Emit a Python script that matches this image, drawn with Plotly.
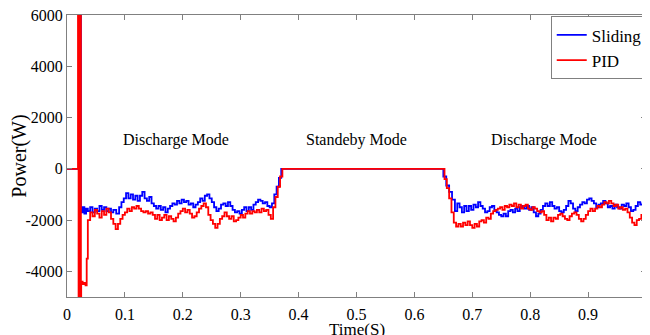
import plotly.graph_objects as go

# ---------------- data ----------------
sliding_t = [0, 0.020, 0.0225, 0.024, 0.027, 0.030, 0.033, 0.036, 0.040, 0.044, 0.048, 0.052, 0.056, 0.060,
             0.064, 0.068, 0.072, 0.076, 0.080, 0.085, 0.090, 0.094, 0.098, 0.102, 0.106, 0.110, 0.114,
             0.118, 0.122, 0.126, 0.130, 0.134, 0.138, 0.142, 0.146, 0.150, 0.154, 0.158, 0.162, 0.166,
             0.170, 0.174, 0.178, 0.182, 0.186, 0.190, 0.194, 0.198, 0.202, 0.206, 0.210, 0.214, 0.218,
             0.222, 0.226, 0.230, 0.234, 0.238, 0.242, 0.246, 0.250, 0.254, 0.258, 0.262, 0.266, 0.270,
             0.274, 0.278, 0.282, 0.286, 0.290, 0.294, 0.298, 0.302, 0.306, 0.310, 0.314, 0.318, 0.322,
             0.326, 0.330, 0.334, 0.338, 0.342, 0.346, 0.350, 0.354, 0.358, 0.362, 0.366, 0.370,
             0.645, 0.650, 0.655, 0.660, 0.665, 0.670, 0.674, 0.678, 0.682, 0.686, 0.690, 0.694, 0.698,
             0.702, 0.706, 0.710, 0.714, 0.718, 0.722, 0.726, 0.730, 0.734, 0.738, 0.742, 0.746, 0.750,
             0.754, 0.758, 0.762, 0.766, 0.770, 0.774, 0.778, 0.782, 0.786, 0.790, 0.794, 0.798, 0.802,
             0.806, 0.810, 0.814, 0.818, 0.822, 0.826, 0.830, 0.834, 0.838, 0.842, 0.846, 0.850, 0.854,
             0.858, 0.862, 0.866, 0.870, 0.874, 0.878, 0.882, 0.886, 0.890, 0.894, 0.898, 0.902, 0.906,
             0.910, 0.914, 0.918, 0.922, 0.926, 0.930, 0.934, 0.938, 0.942, 0.946, 0.950, 0.954, 0.958,
             0.962, 0.966, 0.970, 0.974, 0.978, 0.982, 0.986, 0.990, 0.994, 0.998, 1.0]
sliding_p = [0, 0, 9000, -1700, -1500, -1750, -1550, -1650, -1500, -1700, -1550, -1650, -1450, -1600,
             -1500, -1650, -1550, -1700, -1600, -1750, -1500, -1300, -1150, -950, -1150, -1000, -1200,
             -1050, -1250, -1050, -900, -1150, -1250, -1100, -1350, -1450, -1550, -1450, -1600, -1500,
             -1700, -1550, -1450, -1350, -1400, -1250, -1350, -1200, -1300, -1250, -1400, -1350, -1500,
             -1400, -1300, -1150, -1250, -1050, -1000, -1150, -1300, -1500, -1650, -1550, -1400, -1350,
             -1450, -1300, -1450, -1600, -1700, -1650, -1750, -1600, -1500, -1650, -1500, -1600, -1400,
             -1300, -1200, -1250, -1350, -1300, -1450, -1500, -1350, -1000, -700, -350, 0,
             0, -300, -650, -900, -1200, -1650, -1350, -1500, -1700, -1450, -1650, -1450, -1600,
             -1400, -1500, -1300, -1450, -1550, -1700, -1650, -1500, -1450, -1600, -1700, -1800, -1850,
             -1750, -1850, -1650, -1600, -1700, -1550, -1650, -1500, -1450, -1550, -1450, -1600, -1500,
             -1700, -1850, -1750, -1600, -1450, -1350, -1450, -1300, -1450, -1550, -1500, -1650, -1700,
             -1600, -1450, -1250, -1350, -1550, -1650, -1500, -1400, -1300, -1350, -1200, -1150, -1250,
             -1350, -1500, -1400, -1350, -1250, -1350, -1500, -1450, -1550, -1400, -1500, -1550, -1400,
             -1450, -1350, -1500, -1650, -1600, -1450, -1300, -1400, -1350, -1450, -1400]

pid_t = [0, 0.018, 0.019, 0.020, 0.021, 0.022, 0.023, 0.024, 0.0245, 0.027, 0.030, 0.032, 0.034, 0.036,
         0.040, 0.044, 0.048, 0.052, 0.056, 0.060, 0.064, 0.068, 0.072, 0.076, 0.080, 0.084, 0.088,
         0.092, 0.096, 0.100, 0.104, 0.108, 0.112, 0.116, 0.120, 0.124, 0.128, 0.132, 0.136, 0.140,
         0.144, 0.148, 0.152, 0.156, 0.160, 0.164, 0.168, 0.172, 0.176, 0.180, 0.184, 0.188, 0.192,
         0.196, 0.200, 0.204, 0.208, 0.212, 0.216, 0.220, 0.224, 0.228, 0.232, 0.236, 0.240, 0.244,
         0.248, 0.252, 0.256, 0.260, 0.264, 0.268, 0.272, 0.276, 0.280, 0.284, 0.288, 0.292, 0.296,
         0.300, 0.304, 0.308, 0.312, 0.316, 0.320, 0.324, 0.328, 0.332, 0.336, 0.340, 0.344, 0.348,
         0.352, 0.356, 0.360, 0.364, 0.368, 0.372,
         0.648, 0.652, 0.656, 0.660, 0.664, 0.668, 0.672, 0.676, 0.680, 0.684, 0.688, 0.692, 0.696,
         0.700, 0.704, 0.708, 0.712, 0.716, 0.720, 0.724, 0.728, 0.732, 0.736, 0.740, 0.744, 0.748,
         0.752, 0.756, 0.760, 0.764, 0.768, 0.772, 0.776, 0.780, 0.784, 0.788, 0.792, 0.796, 0.800,
         0.804, 0.808, 0.812, 0.816, 0.820, 0.824, 0.828, 0.832, 0.836, 0.840, 0.844, 0.848, 0.852,
         0.856, 0.860, 0.864, 0.868, 0.872, 0.876, 0.880, 0.884, 0.888, 0.892, 0.896, 0.900, 0.904,
         0.908, 0.912, 0.916, 0.920, 0.924, 0.928, 0.932, 0.936, 0.940, 0.944, 0.948, 0.952, 0.956,
         0.960, 0.964, 0.968, 0.972, 0.976, 0.980, 0.984, 0.988, 0.992, 0.996, 1.0]
pid_p = [0, 0, 9000, -7000, 9000, -7000, 9000, -7000, -4400, -4500, -4450, -4550, -3500, -2000,
         -1700, -1850, -1600, -1750, -1900, -1650, -1800, -1550, -1700, -1950, -2150, -2350, -2150,
         -1950, -1800, -1700, -1550, -1650, -1500, -1550, -1450, -1550, -1650, -1700, -1650, -1750,
         -1700, -1800, -1950, -1800, -2000, -1900, -1800, -2000, -1850, -1950, -2050, -1900, -1750,
         -1650, -1550, -1700, -1600, -1750, -1900, -1850, -1700, -1550, -1450, -1350, -1500, -1800,
         -2000, -2150, -2300, -2150, -1950, -1850, -1700, -1850, -1950, -1850, -2050, -2000, -1900,
         -1800, -1900, -1750, -1650, -1750, -1650, -1700, -1600, -1700, -1550, -1650, -1600, -1800,
         -1950, -1500, -1100, -700, -300, 0,
         0, -400, -750, -1150, -1700, -2100, -2250, -2150, -2250, -2100, -2200, -2050, -2200,
         -2300, -2150, -2250, -2050, -2000, -2100, -1900, -1950, -1750, -1650, -1600, -1550, -1500,
         -1600, -1450, -1500, -1400, -1450, -1350, -1500, -1400, -1550, -1450, -1400, -1550, -1600,
         -1500, -1550, -1650, -1700, -1650, -1800, -2000, -1900, -2050, -1900, -1950, -1800, -1750,
         -1850, -1950, -2000, -1850, -1750, -1700, -1800, -1950, -2050, -1950, -1800, -1650, -1550,
         -1650, -1550, -1450, -1500, -1400, -1300, -1350, -1250, -1350, -1450, -1400, -1550, -1500,
         -1600, -1550, -1700, -1900, -2100, -2200, -2000, -1950, -1800, -1550, -1400]

x_ticks = [0, 0.1, 0.2, 0.3, 0.4, 0.5, 0.6, 0.7, 0.8, 0.9, 1]
x_tick_labels = ["0", "0.1", "0.2", "0.3", "0.4", "0.5", "0.6", "0.7", "0.8", "0.9", "1"]
y_ticks = [-4000, -2000, 0, 2000, 4000, 6000]
y_tick_labels = ["-4000", "-2000", "0", "2000", "4000", "6000"]
x_title = "Time(S)"
y_title = "Power(W)"

mode_labels = ["Discharge Mode", "Standeby Mode", "Discharge Mode"]
mode_x = [0.189, 0.5, 0.823]
mode_y = [1130, 1130, 1130]

# ---------------- figure ----------------
FONT = "Liberation Serif, DejaVu Serif, serif"

fig = go.Figure()
fig.add_trace(go.Scatter(x=sliding_t, y=sliding_p, mode="lines", name="Sliding",
                         line=dict(color="#0000ff", width=1.8, shape="hv")))
fig.add_trace(go.Scatter(x=pid_t, y=pid_p, mode="lines", name="PID",
                         line=dict(color="#ff0000", width=1.8, shape="hv")))

for lbl, xx, yy in zip(mode_labels, mode_x, mode_y):
    fig.add_annotation(x=xx, y=yy, text=lbl, showarrow=False,
                       font=dict(family=FONT, size=16, color="black"))

# x-axis title placed as text just under the tick labels (partly below the page edge, as in the reference)
fig.add_annotation(x=0.5, xref="paper", y=0, yref="paper", yanchor="top", yshift=-21,
                   text=x_title, showarrow=False, font=dict(family=FONT, size=17, color="black"))

axis_common = dict(showline=True, linecolor="#808080", linewidth=1, mirror="ticks",
                   ticks="inside", ticklen=5, tickcolor="#808080", showgrid=False,
                   zeroline=False, automargin=False, ticklabeloverflow="allow",
                   tickfont=dict(family=FONT, size=16, color="black"))

fig.update_xaxes(range=[0, 1], tickvals=x_ticks, ticktext=x_tick_labels, ticklabelstandoff=3,
                 **axis_common)
fig.update_yaxes(range=[-5000, 6000], tickvals=y_ticks, ticktext=y_tick_labels,
                 title=dict(text=y_title, font=dict(family=FONT, size=20, color="black"), standoff=4),
                 **axis_common)

# page body has an 8px default margin; figure sized so the plot lands where the reference has it
fig.update_layout(
    width=642, height=327,
    margin=dict(l=59, r=2, t=7, b=38),
    plot_bgcolor="white", paper_bgcolor="white",
    font=dict(family=FONT, size=16, color="black"),
    showlegend=True,
    legend=dict(x=1.003, y=0.995, xanchor="right", yanchor="top",
                bgcolor="white", bordercolor="#808080", borderwidth=1,
                font=dict(family=FONT, size=17, color="black"),
                tracegroupgap=0, itemwidth=30),
)

fig.write_html("out.html")
